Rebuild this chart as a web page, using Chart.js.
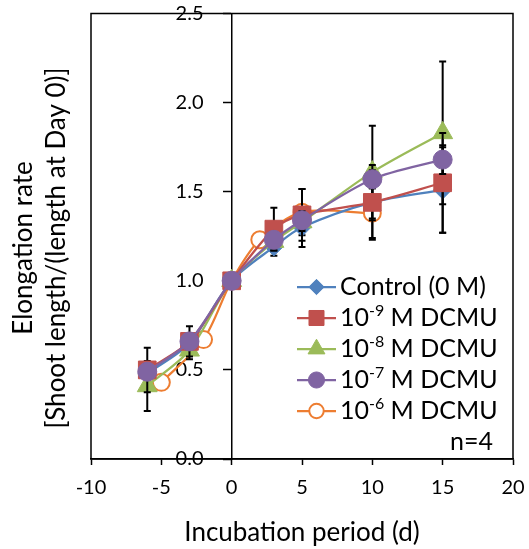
<!DOCTYPE html>
<html>
<head>
<meta charset="utf-8">
<script src="https://cdn.jsdelivr.net/npm/chart.js@4.4.1/dist/chart.umd.min.js"></script>
<style>
  html, body { margin: 0; padding: 0; background: #fff; }
</style>
</head>
<body>
<canvas id="chart" width="529" height="549"></canvas>
<script>
// days of measurement (the 10^-6 M series was sampled on other days)
var days = [-6, -3, 0, 3, 5, 10, 15];
var daysHigh = [-5, -2, 0, 2, 5, 10];

var labels = ["Control (0 M)", "10⁻⁹ M DCMU", "10⁻⁸ M DCMU", "10⁻⁷ M DCMU", "10⁻⁶ M DCMU"];

// elongation rate
var control = [0.48, 0.65, 1.0, 1.19, 1.30, 1.44, 1.51];
var dcmu9 = [0.50, 0.66, 1.0, 1.29, 1.37, 1.44, 1.55];
var dcmu8 = [0.41, 0.61, 1.0, 1.22, 1.33, 1.61, 1.83];
var dcmu7 = [0.49, 0.66, 1.0, 1.23, 1.34, 1.57, 1.68];
var dcmu6 = [0.43, 0.67, 1.0, 1.23, 1.385, 1.38];

// error bar half-lengths (SD)
var controlErr = [0.05, 0.05, 0, 0.05, 0.11, 0.10, 0.24];
var dcmu9Err = [0.125, 0.085, 0, 0.12, 0.145, 0.21, 0.28];
var dcmu8Err = [0.14, 0.05, 0, 0.05, 0.05, 0.26, 0.40];
var dcmu7Err = [0.04, 0.04, 0, 0.04, 0.05, 0.05, 0.08];
var dcmu6Err = [0.03, 0.03, 0, 0.03, 0.13, 0.14];

var xTicks = [-10, -5, 0, 5, 10, 15, 20];
var yTicks = [0, 0.5, 1.0, 1.5, 2.0, 2.5];

var FONT = "Lato";

function points(xs, ys) {
    return xs.map(function (x, i) { return { x: x, y: ys[i] }; });
}

function series(label, xs, ys, err, color, style, radius, fill, order) {
    return {
        label: label,
        data: points(xs, ys),
        err: err,
        borderColor: color,
        backgroundColor: fill,
        pointStyle: style,
        pointRadius: radius,
        pointHoverRadius: radius,
        pointBorderColor: color,
        pointBackgroundColor: fill,
        pointBorderWidth: fill === "#ffffff" ? 2 : 1,
        borderWidth: 2.25,
        tension: 0.3,
        order: order,
    };
}

// black error bars, drawn just before each series so its markers sit on top
var errorBars = {
    id: "errorBars",
    beforeDatasetDraw: function (chart, args) {
        var ds = chart.data.datasets[args.index];
        var ys = chart.scales.y, xs = chart.scales.x, ctx = chart.ctx;
        ctx.save();
        ctx.strokeStyle = "#000";
        ctx.lineWidth = 2;
        ds.data.forEach(function (p, i) {
            var e = ds.err[i];
            if (!e) return;
            var px = xs.getPixelForValue(p.x);
            var top = ys.getPixelForValue(p.y + e), bot = ys.getPixelForValue(p.y - e);
            ctx.beginPath();
            ctx.moveTo(px, top); ctx.lineTo(px, bot);
            ctx.moveTo(px - 3.5, top); ctx.lineTo(px + 3.5, top);
            ctx.moveTo(px - 3.5, bot); ctx.lineTo(px + 3.5, bot);
            ctx.stroke();
        });
        ctx.restore();
    },
};

// frame, y-axis title, legend inside the plot and the n=4 note
var SUP = { "⁻": "-", "⁰": "0", "¹": "1", "²": "2", "³": "3", "⁴": "4", "⁵": "5", "⁶": "6", "⁷": "7", "⁸": "8", "⁹": "9" };

function drawLabel(ctx, text, x, y, size) {
    var m = text.match(/^([^⁻⁰-⁹]*)([⁻⁰¹²³⁴-⁹]+)(.*)$/);
    ctx.textBaseline = "middle";
    ctx.textAlign = "left";
    if (!m) {
        ctx.font = size + "px " + FONT;
        ctx.fillText(text, x, y);
        return;
    }
    var sup = m[2].split("").map(function (c) { return SUP[c]; }).join("");
    ctx.font = size + "px " + FONT;
    ctx.fillText(m[1], x, y);
    x += ctx.measureText(m[1]).width;
    ctx.font = Math.round(size * 0.62) + "px " + FONT;
    ctx.fillText(sup, x, y - size * 0.3);
    x += ctx.measureText(sup).width;
    ctx.font = size + "px " + FONT;
    ctx.fillText(m[3], x, y);
}

var decorations = {
    id: "decorations",
    afterDraw: function (chart) {
        var ctx = chart.ctx, a = chart.chartArea;
        ctx.save();
        ctx.strokeStyle = "#000";
        ctx.lineWidth = 1.5;
        ctx.strokeRect(a.left, a.top, a.right - a.left, a.bottom - a.top);

        ctx.fillStyle = "#000";
        ctx.font = "26px " + FONT;
        ctx.textAlign = "center";
        ctx.textBaseline = "middle";
        ctx.save();
        ctx.translate(24, 248);
        ctx.rotate(-Math.PI / 2);
        ctx.fillText("Elongation rate", 0, 0);
        ctx.fillText("[Shoot length/(length at Day 0)]", 0, 33);
        ctx.restore();

        chart.data.datasets.forEach(function (ds, i) {
            var y = 287 + 31 * i;
            ctx.strokeStyle = ds.borderColor;
            ctx.lineWidth = 2.25;
            ctx.beginPath();
            ctx.moveTo(297, y); ctx.lineTo(336, y);
            ctx.stroke();
            ctx.fillStyle = ds.pointBackgroundColor;
            ctx.lineWidth = ds.pointBorderWidth;
            Chart.helpers.drawPoint(ctx, { pointStyle: ds.pointStyle, radius: ds.pointRadius * 0.85, borderWidth: ds.pointBorderWidth, rotation: 0 }, 316.5, y);
            ctx.fillStyle = "#000";
            drawLabel(ctx, ds.label, 340, y, 25);
        });

        ctx.fillStyle = "#000";
        ctx.font = "25px " + FONT;
        ctx.textAlign = "right";
        ctx.textBaseline = "middle";
        ctx.fillText("n=4", 493, 442);
        ctx.restore();
    },
};

var tickMarks = { drawOnChartArea: false, drawTicks: true, tickColor: "#000", tickWidth: 1.5 };

new Chart(document.getElementById("chart"), {
    type: "line",
    data: {
        datasets: [
            series(labels[0], days, control, controlErr, "#4F81BD", "rectRot", 9, "#4F81BD", 4),
            series(labels[1], days, dcmu9, dcmu9Err, "#C0504D", "rect", 12.5, "#C0504D", 2),
            series(labels[2], days, dcmu8, dcmu8Err, "#9BBB59", "triangle", 11.5, "#9BBB59", 3),
            series(labels[3], days, dcmu7, dcmu7Err, "#8064A2", "circle", 9.5, "#8064A2", 1),
            series(labels[4], daysHigh, dcmu6, dcmu6Err, "#ED7D31", "circle", 8.5, "#ffffff", 5),
        ],
    },
    options: {
        responsive: false,
        animation: false,
        devicePixelRatio: 1,
        layout: { padding: { left: 91, right: 16, top: 2.5, bottom: 0 } },
        plugins: { legend: { display: false }, tooltip: { enabled: false } },
        scales: {
            x: {
                type: "linear",
                min: -10,
                max: 20,
                afterBuildTicks: function (s) { s.ticks = xTicks.map(function (v) { return { value: v }; }); },
                ticks: { color: "#000", font: { family: FONT, size: 20, lineHeight: 1.9 }, padding: 4, maxRotation: 0 },
                grid: Object.assign({ tickLength: 6 }, tickMarks),
                border: { color: "#000", width: 1.5 },
                title: { display: true, text: "Incubation period (d)", color: "#000", font: { family: FONT, size: 26, lineHeight: 1.05 }, padding: { top: 8.35, bottom: 2.35 } },
            },
            // axis line and tick marks, crossing at day 0
            y: {
                type: "linear",
                position: { x: 0 },
                min: 0,
                max: 2.5,
                afterBuildTicks: function (s) { s.ticks = yTicks.map(function (v) { return { value: v }; }); },
                ticks: { display: false },
                grid: Object.assign({ tickLength: 8 }, tickMarks),
                border: { color: "#000", width: 1.5 },
            },
            // tick labels, set off to the left of the day-0 axis
            yLabels: {
                type: "linear",
                axis: "y",
                position: { x: -2 },
                min: 0,
                max: 2.5,
                afterBuildTicks: function (s) { s.ticks = yTicks.map(function (v) { return { value: v }; }); },
                ticks: { color: "#000", padding: 0, font: { family: FONT, size: 20, lineHeight: 1 }, callback: function (v) { return v.toFixed(1); } },
                grid: { display: false },
                border: { display: false },
            },
        },
    },
    plugins: [errorBars, decorations],
});
</script>
</body>
</html>
